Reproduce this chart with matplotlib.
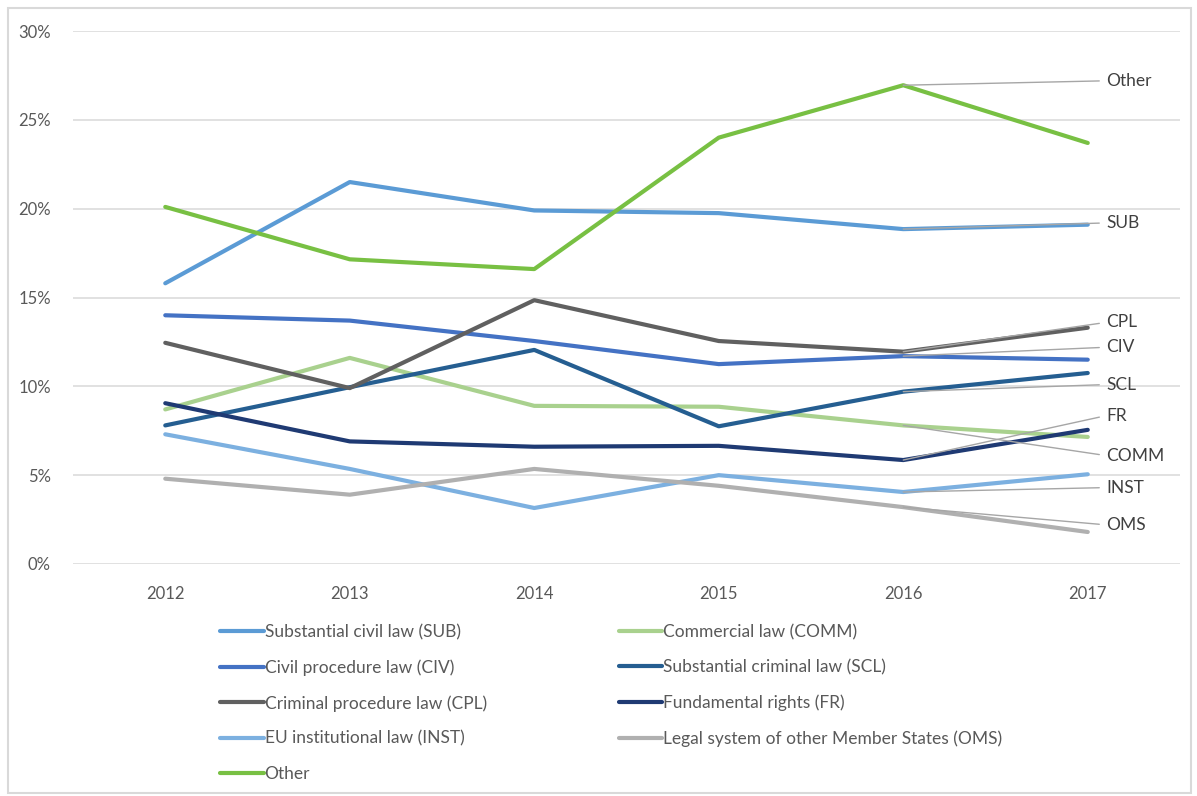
import matplotlib
matplotlib.use("Agg")
import matplotlib.pyplot as plt
from matplotlib.patches import Rectangle
from matplotlib.ticker import FuncFormatter

plt.rcParams['font.family'] = ['Lato', 'DejaVu Sans']

years = [2012, 2013, 2014, 2015, 2016, 2017]

# share of training topics per year, in percent
sub = [15.8, 21.5, 19.9, 19.75, 18.85, 19.1]
comm = [8.7, 11.6, 8.9, 8.85, 7.8, 7.15]
civ = [14.0, 13.7, 12.55, 11.25, 11.7, 11.5]
scl = [7.8, 9.95, 12.05, 7.75, 9.7, 10.75]
cpl = [12.45, 9.9, 14.85, 12.55, 11.95, 13.3]
fr = [9.05, 6.9, 6.6, 6.65, 5.85, 7.55]
inst = [7.3, 5.35, 3.15, 5.0, 4.05, 5.05]
oms = [4.8, 3.9, 5.35, 4.4, 3.2, 1.8]
other = [20.1, 17.15, 16.6, 24.0, 26.95, 23.7]

names = ["Substantial civil law (SUB)", "Commercial law (COMM)",
         "Civil procedure law (CIV)", "Substantial criminal law (SCL)",
         "Criminal procedure law (CPL)", "Fundamental rights (FR)",
         "EU institutional law (INST)", "Legal system of other Member States (OMS)",
         "Other"]
short = ["SUB", "COMM", "CIV", "SCL", "CPL", "FR", "INST", "OMS", "Other"]
series = [sub, comm, civ, scl, cpl, fr, inst, oms, other]
colors = ["#5b9bd5", "#a9d18e", "#4472c4", "#255e91", "#606060",
          "#1f3a73", "#7cb0e0", "#b0b0b0", "#78c043"]

# where the end labels sit (y in percent)
label_y = {"SUB": 19.2, "COMM": 6.1, "CIV": 12.2, "SCL": 10.1, "CPL": 13.6,
           "FR": 8.35, "INST": 4.3, "OMS": 2.2, "Other": 27.2}

fig = plt.figure(figsize=(11.97, 7.96), dpi=100)
ax = fig.add_axes([0.061, 0.2915, 0.9248, 0.6695])

lines = []
for vals, name, c in zip(series, names, colors):
    ln, = ax.plot(years, vals, color=c, lw=3.0, label=name,
                  solid_capstyle='round', solid_joinstyle='round')
    lines.append(ln)

# leader lines from the 2016 point to each label
for vals, s in zip(series, short):
    ax.annotate(s, xy=(years[-2], vals[-2]), xytext=(2017.1, label_y[s]),
                ha='left', va='center', fontsize=12.5, color='#404040',
                annotation_clip=False,
                arrowprops=dict(arrowstyle='-', color='#a6a6a6', lw=1.0,
                                relpos=(0, 0.5), shrinkA=3, shrinkB=0))

ax.set_xlim(2011.5, 2017.5)
ax.set_ylim(0, 30)
ax.set_xticks(years)
ax.set_yticks(range(0, 31, 5))
ax.yaxis.set_major_formatter(FuncFormatter(lambda v, p: f"{v:.0f}%"))
ax.tick_params(length=0, labelsize=12, labelcolor='#595959')
ax.tick_params(axis='x', pad=16)
ax.tick_params(axis='y', pad=16)
ax.grid(axis='y', color='#d9d9d9', lw=1.1)
ax.set_axisbelow(True)
for sp in ax.spines.values():
    sp.set_visible(False)

# legend filled row by row in two columns
order = [0, 2, 4, 6, 8, 1, 3, 5, 7]
leg = fig.legend([lines[i] for i in order], [names[i] for i in order],
                 ncol=2, loc='upper left', bbox_to_anchor=(0.184, 0.216),
                 frameon=False, fontsize=12.5, handlelength=2.5,
                 handletextpad=0.05, labelspacing=1.1, columnspacing=7.6,
                 borderaxespad=0, borderpad=0)
for t in leg.get_texts():
    t.set_color('#595959')

fig.patches.append(Rectangle((0.007, 0.004), 0.988, 0.986, transform=fig.transFigure,
                             fill=False, edgecolor='#d9d9d9', lw=1.5))

fig.savefig("out.png", dpi=100)
